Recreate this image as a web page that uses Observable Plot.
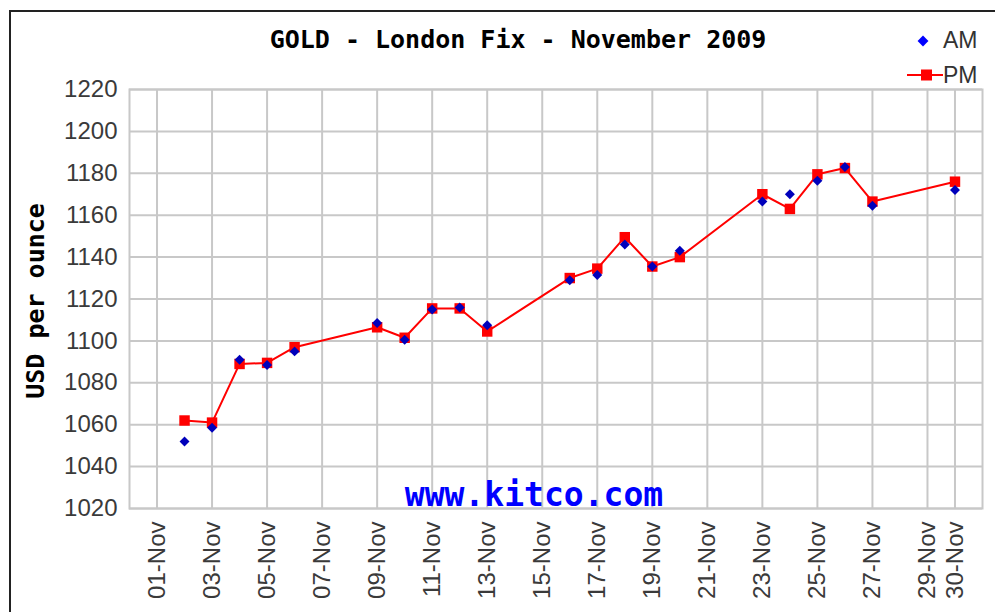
<!DOCTYPE html>
<html>
<head>
<meta charset="utf-8">
<script src="https://cdn.jsdelivr.net/npm/d3@7"></script>
<script src="https://cdn.jsdelivr.net/npm/@observablehq/plot@0.6"></script>
<style>
  html, body { margin: 0; padding: 0; background: #fff; }
  #wrap { position: relative; width: 995px; height: 612px; overflow: hidden; }
  #border { position: absolute; left: 9px; top: 10px; width: 1000px; height: 700px;
            border-left: 2px solid #222; border-top: 2px solid #222; box-sizing: border-box; }
  #chart { position: absolute; left: 0; top: 0; }
</style>
</head>
<body>
<div id="wrap"><div id="border"></div><div id="chart"></div></div>
<script>
const dates = ["2009-11-02","2009-11-03","2009-11-04","2009-11-05","2009-11-06",
  "2009-11-09","2009-11-10","2009-11-11","2009-11-12","2009-11-13",
  "2009-11-16","2009-11-17","2009-11-18","2009-11-19","2009-11-20",
  "2009-11-23","2009-11-24","2009-11-25","2009-11-26","2009-11-27","2009-11-30"];
const am = [1052, 1058.5, 1091, 1088.5, 1095,
  1108.5, 1100.5, 1115, 1116, 1107.5,
  1129, 1131.5, 1146, 1135.5, 1143,
  1166.5, 1170, 1176.5, 1183, 1164.5, 1172];
const pm = [1062, 1061, 1089, 1089.5, 1097,
  1106.5, 1101.5, 1115.5, 1115.5, 1104.5,
  1130, 1134.5, 1149.5, 1135.5, 1140,
  1170, 1163, 1179.5, 1182.5, 1166.5, 1176];
const xTickDates = ["2009-11-01","2009-11-03","2009-11-05","2009-11-07","2009-11-09",
  "2009-11-11","2009-11-13","2009-11-15","2009-11-17","2009-11-19","2009-11-21",
  "2009-11-23","2009-11-25","2009-11-27","2009-11-29","2009-11-30"];
const yTicks = [1020,1040,1060,1080,1100,1120,1140,1160,1180,1200,1220];
const xDomain = ["2009-10-31","2009-12-01"];
const yDomain = [1020, 1220];

const parse = d3.utcParse("%Y-%m-%d");
const rows = dates.map((d, i) => ({date: parse(d), am: am[i], pm: pm[i]}));
const xt = xTickDates.map(parse);

const gridColor = "#c8c8c8";
const plot = Plot.plot({
  width: 995,
  height: 612,
  marginLeft: 129,
  marginRight: 13,
  marginTop: 89,
  marginBottom: 104,
  style: {background: "transparent", overflow: "visible"},
  x: {type: "utc", domain: xDomain.map(parse)},
  y: {domain: yDomain},
  marks: [
    Plot.gridX(xt, {stroke: gridColor, strokeOpacity: 1, strokeWidth: 2}),
    Plot.gridY(yTicks, {stroke: gridColor, strokeOpacity: 1, strokeWidth: 2}),
    Plot.frame({stroke: gridColor, strokeWidth: 2}),
    Plot.text(["www.kitco.com"], {frameAnchor: "bottom", lineAnchor: "bottom", dx: -22, dy: -3,
      fill: "#0000ff", fontSize: 33, fontWeight: "bold", fontFamily: "DejaVu Sans Mono"}),
    Plot.axisX(xt, {tickFormat: d3.utcFormat("%d-%b"), tickRotate: -90, tickSize: 0, tickPadding: 13,
      fontSize: 24, fontFamily: "Liberation Sans", fill: "#3a3a3a", label: null}),
    Plot.axisY(yTicks, {tickFormat: d3.format("d"), tickSize: 0, tickPadding: 12, fontSize: 24,
      fontFamily: "Liberation Sans", fill: "#3a3a3a", label: null}),
    Plot.line(rows, {x: "date", y: "pm", stroke: "#ff0000", strokeWidth: 2}),
    Plot.dot(rows, {x: "date", y: "pm", symbol: "square", r: 5.9, fill: "#ff0000", stroke: "none"}),
    Plot.dot(rows, {x: "date", y: "am", symbol: "diamond2", r: 4.5, fill: "#0000bb", stroke: "none"})
  ]
});
document.getElementById("chart").appendChild(plot);

const svg = d3.select(plot);
// title
svg.append("text").attr("x", 518).attr("y", 48).attr("text-anchor", "middle")
  .attr("font-family", "DejaVu Sans Mono").attr("font-weight", "bold").attr("font-size", 25)
  .attr("fill", "#000").text("GOLD - London Fix - November 2009");
// y label
svg.append("text").attr("transform", "translate(35,301) rotate(-90)").attr("dy", "0.36em")
  .attr("text-anchor", "middle").attr("font-family", "DejaVu Sans Mono").attr("font-weight", "bold")
  .attr("font-size", 25).attr("fill", "#000").text("USD per ounce");
// legend
const lg = svg.append("g").attr("text-anchor", "start");
lg.append("path").attr("d", d3.symbol(d3.symbolDiamond2, 75)()).attr("transform", "translate(923,41)")
  .attr("fill", "#0000ff");
lg.append("text").attr("x", 943).attr("y", 48).attr("text-anchor", "start").attr("font-family", "Liberation Sans")
  .attr("font-size", 23).attr("fill", "#333").text("AM");
lg.append("line").attr("x1", 907).attr("x2", 943).attr("y1", 75).attr("y2", 75)
  .attr("stroke", "#ff0000").attr("stroke-width", 2);
lg.append("rect").attr("x", 921).attr("y", 69.5).attr("width", 11).attr("height", 11).attr("fill", "#ff0000");
lg.append("text").attr("x", 943).attr("y", 83).attr("text-anchor", "start").attr("font-family", "Liberation Sans")
  .attr("font-size", 23).attr("fill", "#333").text("PM");
</script>
</body>
</html>
